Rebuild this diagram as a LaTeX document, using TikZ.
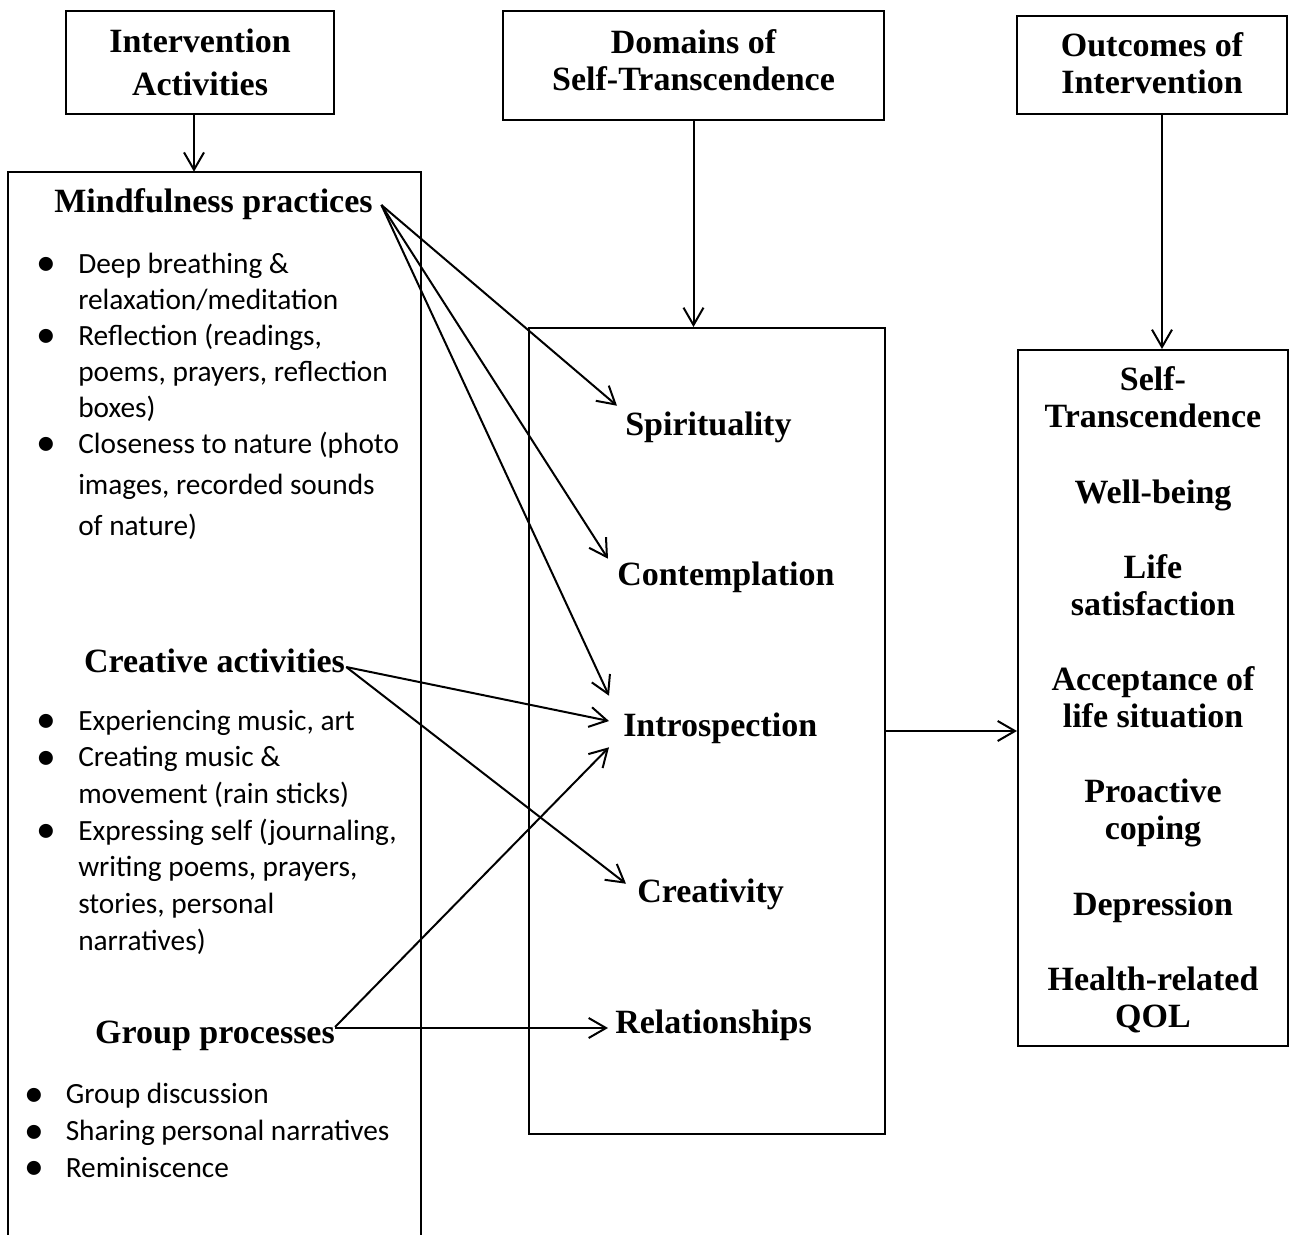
\documentclass[tikz,border=0pt]{standalone}
\usepackage{fontspec}
\setmainfont{Carlito}
\newfontfamily\headfont{Liberation Serif}
\usetikzlibrary{arrows.meta,fit}

\tikzset{
  box/.style={draw, line width=1.5pt, inner sep=0pt},
  title/.style={inner sep=0pt, align=center, anchor=base,
    font=\headfont\bfseries\fontsize{25.5pt}{27.75pt}\selectfont},
  head/.style={inner sep=0pt, text height=18pt, text depth=5.25pt,
    font=\headfont\bfseries\fontsize{25.5pt}{27.4pt}\selectfont},
  outc/.style={inner sep=0pt, align=center, anchor=base,
    font=\headfont\bfseries\fontsize{25.5pt}{27.4pt}\selectfont},
  items/.style={inner sep=0pt, align=left, anchor=base west,
    font=\fontsize{22pt}{27.5pt}\selectfont},
  arr/.style={line width=1.5pt, -{Straight Barb[length=13pt,width=15pt]}}
}
\newcommand\bul{\llap{\raisebox{-2pt}{\scalebox{1.35}{\textbullet}}\hspace{16.5pt}}}

\begin{document}
\begin{tikzpicture}[x=0.75pt,y=-0.75pt]
\useasboundingbox[fill=white] (0,0) rectangle (1290,1235);

% title boxes
\node[box, fit={(66,11)(334,114)}] (intbox) {};
\node[box, fit={(503,11)(884,120)}] (dombox) {};
\node[box, fit={(1017,16)(1287,114)}] (outbox) {};
\node[title, font=\headfont\bfseries\fontsize{25.5pt}{32.25pt}\selectfont] (inttxt) at (200,95.5) {Intervention\\Activities};
\node[title] (domtxt) at (693.5,90) {Domains of\\Self-Transcendence};
\node[title] (outtxt) at (1152,93) {Outcomes of\\Intervention};

% big boxes
\node[fit={(8,172)(421,1245)}, inner sep=0pt] (lbox) {};
\draw[line width=1.5pt] (lbox.south west) -- (lbox.north west) -- (lbox.north east) -- (lbox.south east);
\node[box, fit={(529,328)(885,1134)}] (mbox) {};
\node[box, fit={(1018,350)(1288,1046)}] (rbox) {};

% activities
\node[head, anchor=base] (mind) at (213.5,212) {Mindfulness practices};
\node[items, font=\fontsize{22pt}{27pt}\selectfont] (mlist) at (78,535) {\bul Deep breathing \&\\relaxation/meditation\\
\bul Reflection (readings,\\poems, prayers, reflection\\boxes)\\
\bul Closeness to nature (photo\\[3.75pt]images, recorded sounds\\[3.75pt]of nature)};

\node[head, anchor=base] (crea) at (214.5,672) {Creative activities};
\node[items] (clist) at (78,950) {\bul Experiencing music, art\\
\bul Creating music \&\\movement (rain sticks)\\
\bul Expressing self (journaling,\\writing poems, prayers,\\stories, personal\\narratives)};

\node[head, anchor=base] (grp) at (215,1043) {Group processes};
\node[items] (glist) at (65.5,1177) {\bul Group discussion\\
\bul Sharing personal narratives\\
\bul Reminiscence};

% domains
\node[head, anchor=base west] (spir) at (625,435) {Spirituality};
\node[head, anchor=base west] (cont) at (617,585) {Contemplation};
\node[head, anchor=base west] (intro) at (623,736) {Introspection};
\node[head, anchor=base west] (crty) at (637,902) {Creativity};
\node[head, anchor=base west] (rel) at (615,1033) {Relationships};

% outcomes
\node[outc] (o1) at (1153,427) {Self-\\Transcendence};
\node[outc] (o2) at (1153,503) {Well-being};
\node[outc] (o3) at (1153,615) {Life\\satisfaction};
\node[outc] (o4) at (1153,727) {Acceptance of\\life situation};
\node[outc] (o5) at (1153,839) {Proactive\\coping};
\node[outc] (o6) at (1153,915) {Depression};
\node[outc] (o7) at (1153,1027) {Health-related\\QOL};

% arrows
\coordinate (intfoot) at ([xshift=-4.5pt]intbox.south);
\coordinate (outfoot) at ([xshift=7.5pt]outbox.south);
\draw[arr] (intfoot) -- (intfoot |- lbox.north);
\draw[arr] (dombox.south) -- (dombox.south |- mbox.north);
\draw[arr] (outfoot) -- (outfoot |- rbox.north);
\draw[arr] (mbox.east) -- (mbox.east -| rbox.west);

\draw[arr] ([shift={(8.5,1.5)}]mind.east) -- ([shift={(-8,-5)}]spir.north west);
\draw[arr] ([shift={(8.5,1.5)}]mind.east) -- ([shift={(-9,-2)}]cont.north west);
\draw[arr] ([shift={(8.5,1.5)}]mind.east) -- ([shift={(-14,-16)}]intro.north west);
\draw[arr] ([shift={(1,3.5)}]crea.east) -- ([shift={(-14,-6.5)}]intro.west);
\draw[arr] ([shift={(1,3.5)}]crea.east) -- ([shift={(-11,6)}]crty.north west);
\draw[arr] ([shift={(0,-7.5)}]grp.east) -- ([shift={(-14,4)}]intro.south west);
\draw[arr] ([shift={(0,-6.5)}]grp.east) -- ([shift={(-7,3.5)}]rel.west);
\end{tikzpicture}
\end{document}
